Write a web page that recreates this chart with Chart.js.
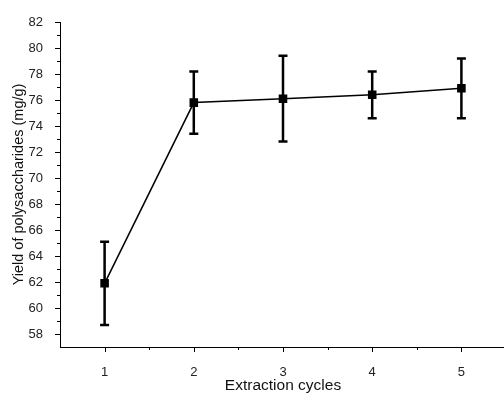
<!DOCTYPE html>
<html>
<head>
<meta charset="utf-8">
<script src="https://cdn.jsdelivr.net/npm/chart.js@4"></script>
<style>
  html, body { margin: 0; padding: 0; background: #fff; overflow: hidden; }
</style>
</head>
<body>
<canvas id="myChart" width="516" height="397"></canvas>
<script>
const cycles = [1, 2, 3, 4, 5]
const yieldVals = [61.9, 75.8, 76.1, 76.4, 76.9]
const errLow = [58.7, 73.4, 72.8, 74.6, 74.6]
const errHigh = [65.1, 78.2, 79.4, 78.2, 79.2]

const fontFamily = '"Liberation Sans", Arial, sans-serif'

// error bars + outward tick marks, drawn from the chart scales
const errorBars = {
  id: 'errorBars',
  afterDatasetsDraw(chart) {
    const { ctx, scales: { x, y } } = chart
    ctx.save()
    ctx.strokeStyle = '#000'
    ctx.lineWidth = 2.5
    cycles.forEach((c, i) => {
      const px = x.getPixelForValue(c)
      const top = y.getPixelForValue(errHigh[i])
      const bot = y.getPixelForValue(errLow[i])
      ctx.beginPath()
      ctx.moveTo(px, top)
      ctx.lineTo(px, bot)
      ctx.moveTo(px - 4.5, top)
      ctx.lineTo(px + 4.5, top)
      ctx.moveTo(px - 4.5, bot)
      ctx.lineTo(px + 4.5, bot)
      ctx.stroke()
    })
    ctx.restore()
  },
  afterDraw(chart) {
    const { ctx, chartArea, scales: { x, y } } = chart
    ctx.save()
    ctx.strokeStyle = '#000'
    ctx.lineWidth = 1
    ctx.beginPath()
    y.ticks.forEach(t => {
      if (t.value <= y.min) return
      const py = Math.round(y.getPixelForValue(t.value)) + 0.5
      const len = t.value % 2 === 0 ? 5 : 3
      ctx.moveTo(chartArea.left, py)
      ctx.lineTo(chartArea.left - len, py)
    })
    x.ticks.forEach(t => {
      if (t.value <= x.min || t.value >= x.max) return
      const px = Math.round(x.getPixelForValue(t.value)) + 0.5
      const len = Number.isInteger(t.value) ? 5 : 3
      ctx.moveTo(px, chartArea.bottom)
      ctx.lineTo(px, chartArea.bottom + len)
    })
    ctx.stroke()
    ctx.restore()
  },
}

new Chart(document.getElementById('myChart'), {
  type: 'line',
  data: {
    datasets: [
      {
        label: 'Yield',
        data: cycles.map((c, i) => ({ x: c, y: yieldVals[i] })),
        borderColor: '#000',
        backgroundColor: '#000',
        borderWidth: 1.5,
        pointStyle: 'rect',
        pointRadius: 5,
        pointHoverRadius: 5,
        tension: 0,
      },
    ],
  },
  options: {
    responsive: false,
    animation: false,
    layout: { padding: { top: 22, right: 4, left: 0, bottom: 0 } },
    plugins: {
      legend: { display: false },
      tooltip: { enabled: false },
    },
    scales: {
      x: {
        type: 'linear',
        min: 0.5,
        max: 5.5,
        grid: { display: false },
        border: { display: true, color: '#000', width: 1 },
        ticks: {
          stepSize: 0.5,
          autoSkip: false,
          maxRotation: 0,
          padding: 10,
          color: '#222',
          font: { family: fontFamily, size: 13 },
          callback: v => (Number.isInteger(v) && v >= 1 && v <= 5 ? v : ''),
        },
        title: {
          display: true,
          text: 'Extraction cycles',
          color: '#111',
          font: { family: fontFamily, size: 15.5 },
          padding: { top: 0, bottom: 2 },
        },
        afterFit: scale => { scale.height = 50 },
      },
      y: {
        min: 57,
        max: 82,
        grid: { display: false },
        border: { display: true, color: '#000', width: 1 },
        ticks: {
          stepSize: 1,
          autoSkip: false,
          padding: 9,
          color: '#222',
          font: { family: fontFamily, size: 13 },
          callback: v => (v % 2 === 0 ? v : ''),
        },
        title: {
          display: true,
          text: 'Yield of polysaccharides (mg/g)',
          color: '#111',
          font: { family: fontFamily, size: 14.5 },
          padding: { top: 10, bottom: 0 },
        },
        afterFit: scale => { scale.width = 60 },
      },
    },
  },
  plugins: [errorBars],
})
</script>
</body>
</html>
